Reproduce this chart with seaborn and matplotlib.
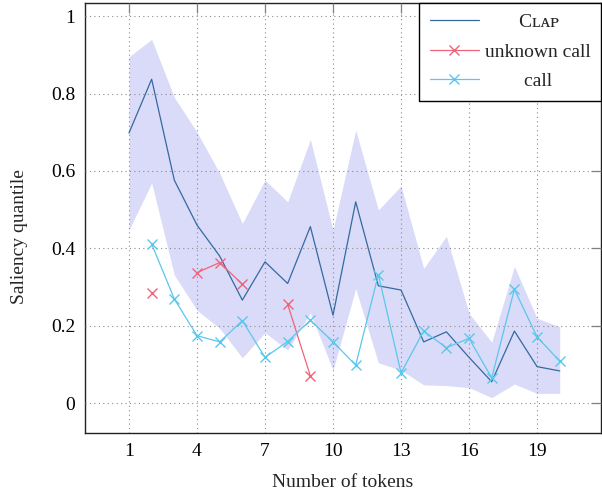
import numpy as np
import pandas as pd
import seaborn as sns
import matplotlib
matplotlib.use("Agg")
import matplotlib.pyplot as plt

# ---------------- data ----------------
tokens = list(range(1, 21))
clap_mean = [0.698, 0.837, 0.576, 0.460, 0.380, 0.266, 0.365, 0.309, 0.456, 0.227,
             0.520, 0.303, 0.292, 0.158, 0.184, 0.118, 0.055, 0.186, 0.094, 0.083]
clap_upper = [0.895, 0.940, 0.790, 0.700, 0.594, 0.464, 0.576, 0.520, 0.681, 0.447,
              0.705, 0.499, 0.561, 0.348, 0.431, 0.232, 0.157, 0.353, 0.219, 0.197]
clap_lower = [0.447, 0.569, 0.331, 0.240, 0.193, 0.117, 0.182, 0.137, 0.233, 0.085,
              0.296, 0.104, 0.085, 0.047, 0.045, 0.040, 0.014, 0.049, 0.025, 0.025]
nan = np.nan
unknown_call = [nan, 0.285, nan, 0.337, 0.363, 0.307, nan, 0.255, 0.070, nan,
                nan, nan, nan, nan, nan, nan, nan, nan, nan, nan]
call = [nan, 0.411, 0.269, 0.174, 0.158, 0.213, 0.118, 0.159, 0.214, 0.158,
        0.098, 0.332, 0.078, 0.186, 0.143, 0.167, 0.065, 0.294, 0.171, 0.108]

x_ticks = [1, 4, 7, 10, 13, 16, 19]
y_ticks = [0, 0.2, 0.4, 0.6, 0.8, 1.0]
y_ticklabels = ["0", "0.2", "0.4", "0.6", "0.8", "1"]
series_labels = ["Cʟᴀᴘ", "unknown call", "call"]

# ---------------- style ----------------
sns.set_theme(style="white")
plt.rcParams["font.family"] = ["Liberation Serif", "DejaVu Serif", "DejaVu Sans"]
FS = 14
plt.rcParams["font.size"] = FS

c_band = "#dadaf9"
c_clap = "#356aa0"
c_unk = "#f0647a"
c_call = "#5ac8eb"

fig = plt.figure(figsize=(6.02, 4.92), dpi=100)
ax = fig.add_axes([85 / 602, 59 / 492, 516 / 602, 430 / 492])

ax.fill_between(tokens, clap_lower, clap_upper, color=c_band, lw=0, zorder=1)

df = pd.DataFrame({"tokens": tokens, "clap": clap_mean,
                   "unknown": unknown_call, "call": call})


def runs(col):
    mask = df[col].notna().to_numpy()
    out, cur = [], []
    for i, m in enumerate(mask):
        if m:
            cur.append(i)
        elif cur:
            out.append(cur)
            cur = []
    if cur:
        out.append(cur)
    return out


sns.lineplot(data=df, x="tokens", y="clap", color=c_clap, lw=0.9,
             estimator=None, sort=False, ax=ax, zorder=3)
for r in runs("unknown"):
    sns.lineplot(data=df.iloc[r], x="tokens", y="unknown", color=c_unk, lw=0.9,
                 marker="x", markersize=7, markeredgewidth=1.0, markeredgecolor=c_unk,
                 estimator=None, sort=False, ax=ax, zorder=4)
for r in runs("call"):
    sns.lineplot(data=df.iloc[r], x="tokens", y="call", color=c_call, lw=0.9,
                 marker="x", markersize=7, markeredgewidth=1.0, markeredgecolor=c_call,
                 estimator=None, sort=False, ax=ax, zorder=4)

ax.set_xlim(-0.94, 21.82)
ax.set_ylim(-0.0775, 1.034)
ax.set_xticks(x_ticks)
ax.set_yticks(y_ticks)
ax.set_yticklabels(y_ticklabels)

ax.grid(True, color="#8c8c8c", linestyle=(0, (1, 3)), linewidth=0.8)
ax.set_axisbelow(False)
for g in ax.get_xgridlines() + ax.get_ygridlines():
    g.set_zorder(2)

ax.tick_params(direction="in", length=7.5, width=0.9, color="#808080",
               top=True, right=True, labeltop=False, labelright=False,
               labelsize=FS, labelcolor="black", pad=7)
for s in ax.spines.values():
    s.set_color("#222222")
    s.set_linewidth(1.0)
    s.set_visible(True)

ax.set_xlabel("Number of tokens", fontsize=FS)
ax.set_ylabel("Saliency quantile", fontsize=FS)
ax.xaxis.set_label_coords(0.5, (433 - 487) / 430)
ax.xaxis.label.set_va("baseline")
ax.yaxis.set_label_coords((20 - 85) / 516, (433 - 237) / 430)
ax.yaxis.label.set_va("center")

handles = [
    plt.Line2D([], [], color=c_clap, lw=0.9),
    plt.Line2D([], [], color=c_unk, lw=0.9, marker="x", markersize=7, markeredgewidth=1.0),
    plt.Line2D([], [], color=c_call, lw=0.9, marker="x", markersize=7, markeredgewidth=1.0),
]
pad_labels = ["       " + series_labels[0], series_labels[1],
              "        " + series_labels[2]]
leg = ax.legend(handles, pad_labels, loc="upper right", borderaxespad=0,
                frameon=True, fancybox=False, framealpha=1, edgecolor="black",
                fontsize=FS, handlelength=2.5, handletextpad=0.3,
                labelspacing=0.6, borderpad=0.55, numpoints=1)
leg.get_frame().set_linewidth(1.0)
leg.set_zorder(10)

fig.savefig("out.png", dpi=100)
